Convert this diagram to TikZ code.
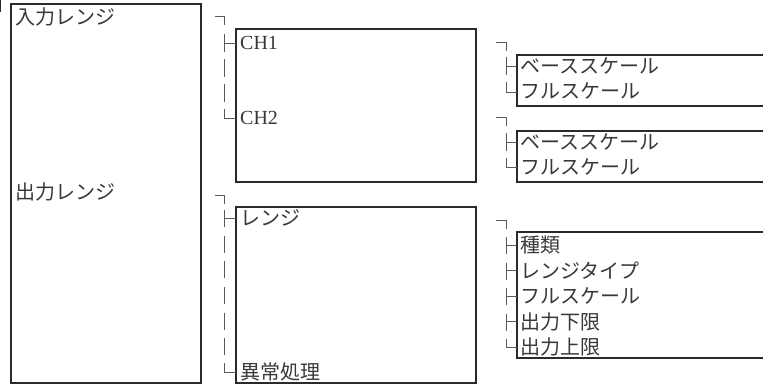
\documentclass[tikz,border=0pt]{standalone}
\usepackage{fontspec}
\setmainfont{Liberation Serif}
\newfontfamily\jpfont{Noto Sans CJK JP}
\definecolor{boxc}{HTML}{2A2A2A}
\definecolor{txtc}{HTML}{383838}
\definecolor{brkc}{HTML}{5A5A5A}
\begin{document}
\begin{tikzpicture}[x=1pt,y=-1pt,
  box/.style={draw=boxc, line width=1.4pt, fill=none},
  jp/.style={anchor=base west, inner sep=0pt, text=txtc, font=\jpfont\fontsize{20}{20}\selectfont},
  lat/.style={anchor=base west, inner sep=0pt, text=txtc, font=\fontsize{20}{20}\selectfont},
  brk/.style={draw=brkc, line width=0.9pt}]
\useasboundingbox (0,0) rectangle (763,385);

% ---------- boxes ----------
\draw[box] (11,4) rectangle (201,383);
\draw[box] (236,29) rectangle (476,182);
\draw[box] (236,207) rectangle (476,383);
\draw[box] (517,55) rectangle (766,106);
\draw[box] (517,131) rectangle (766,182);
\draw[box] (517,232) rectangle (766,358);
% stray edge at far left
\draw[box] (0.7,0) -- (0.7,12);

% ---------- left texts ----------
\node[jp] (in) at (15,24.5) {入力レンジ};
\node[jp] (out) at (15,199.5) {出力レンジ};

% ---------- middle texts ----------
\node[lat] (ch1) at (240,49.6) {CH1};
\node[lat] (ch2) at (240,124.6) {CH2};
\node[jp] (rng) at (240,225.5) {レンジ};
\node[jp] (err) at (240,379.5) {異常処理};

% ---------- right texts ----------
\node[jp] (b1) at (520,73.5) {ベーススケール};
\node[jp] (f1) at (520,99) {フルスケール};
\node[jp] (b2) at (520,149.5) {ベーススケール};
\node[jp] (f2) at (520,174.5) {フルスケール};
\node[jp] (k)  at (520,252.5) {種類};
\node[jp] (rt) at (520,278) {レンジタイプ};
\node[jp] (fs) at (520,303.5) {フルスケール};
\node[jp] (lo) at (520,329) {出力下限};
\node[jp] (hi) at (520,354.5) {出力上限};

% ---------- bracket glyph lines ----------
% column 2, group 1
\draw[brk] (215,16) -- (224,16) -- (224,25);
\draw[brk] (224,34) -- (224,52);  \draw[brk] (224,43) -- (236,43);
\draw[brk] (224,59) -- (224,77);
\draw[brk] (224,84) -- (224,102);
\draw[brk] (224,109) -- (224,118) -- (236,118);
% column 2, group 2
\draw[brk] (215,195) -- (224,195) -- (224,204);
\draw[brk] (224,210) -- (224,227); \draw[brk] (224,218) -- (236,218);
\foreach \r in {243.7,269.3,295,320.7,346.3} \draw[brk] (224,\r-8) -- (224,\r+9);
\draw[brk] (224,363) -- (224,372) -- (236,372);
% column 3, group 1
\draw[brk] (496,42) -- (506,42) -- (506,51);
\draw[brk] (506,57) -- (506,75); \draw[brk] (506,66) -- (517,66);
\draw[brk] (506,82) -- (506,92) -- (517,92);
% column 3, group 2
\draw[brk] (496,117) -- (506,117) -- (506,126);
\draw[brk] (506,133) -- (506,151); \draw[brk] (506,142) -- (517,142);
\draw[brk] (506,158) -- (506,167) -- (517,167);
% column 3, group 3
\draw[brk] (496,220) -- (506,220) -- (506,229);
\foreach \r in {245,270.5,296,321.5} {
  \draw[brk] (506,\r-8) -- (506,\r+9);
  \draw[brk] (506,\r) -- (517,\r);
}
\draw[brk] (506,339) -- (506,347) -- (517,347);
\end{tikzpicture}
\end{document}
